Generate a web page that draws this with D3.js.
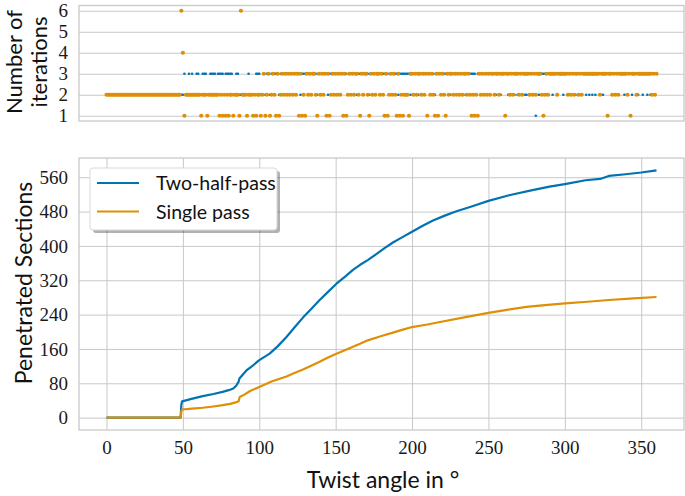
<!DOCTYPE html>
<html>
<head>
<meta charset="utf-8">
<script src="https://cdn.jsdelivr.net/npm/d3@7/dist/d3.min.js"></script>
<style>
  body { margin: 0; background: #fff; }
  .label { font-family: Lato, sans-serif; font-size: 23px; fill: #111; }
</style>
</head>
<body>
<div class="container"></div>
<script>
// colours of the two methods (seaborn colorblind palette)
const colors = {
  twoHalf: '#0173b2',
  single: '#de8f05',
  grid: '#c8c8c8'
};

// tick labels
const xTicks = [0, 50, 100, 150, 200, 250, 300, 350];
const sectionTicks = [0, 80, 160, 240, 320, 400, 480, 560];
const iterTicks = [1, 2, 3, 4, 5, 6];

// penetrated sections vs twist angle
const twoHalfAngles = [0, 48.5, 49, 49.5, 55, 63, 70, 76, 80, 83, 85, 86.5, 87, 91.6, 96, 100, 106.8, 112, 117.8, 123, 128.6, 134, 139.5, 145, 150.5, 156, 161.3, 166, 171, 176.6, 182, 187.5, 194, 200, 207, 213.7, 221, 228.6, 240, 250, 263.5, 278.8, 290, 300, 313.6, 323, 328.8, 339.8, 350, 360];
const twoHalfSections = [0, 0, 30, 38, 43, 50, 55, 60, 64, 68, 75, 84, 91, 110, 122, 134, 149, 166, 188, 210, 233, 253, 274, 293, 312, 328, 344, 356, 367, 381, 395, 408, 421, 433, 447, 459, 470, 480, 493, 505, 518, 530, 538, 544, 553, 556, 563, 567, 571, 576];

const singleAngles = [0, 48.5, 49, 49.5, 56, 63, 70, 76, 81, 85, 86.5, 87.2, 90, 94, 100, 108, 117.8, 123, 128.6, 134, 139.5, 145, 150.5, 156, 161.3, 166, 171, 180, 187.5, 194, 200, 210, 220, 235, 250, 262, 275, 287, 300, 315, 328.8, 345, 360];
const singleSections = [0, 0, 15, 19, 21, 23, 26, 29, 32, 36, 38, 48, 53, 62, 71.5, 84, 96, 104, 112, 121, 130, 140, 149, 157, 165, 172, 180, 190, 198, 205, 211, 217, 224, 234, 244, 251, 258, 262, 266, 270, 274, 278, 281];

// number of iterations per degree of twist (one digit per degree, 0..360)
const angleStep = 1;
const twoHalfIters = [
  '2222222222', '2222222222', '2222222222', '2222222222', '2222222222',
  '2322323223', '3223332233', '3323333233', '3332233222', '2223222233',
  '3223233233', '3332332333', '3323333233', '3333233323', '2333323333',
  '3323333323', '3333233333', '3323332333', '3333323333', '3233333332',
  '3333233333', '3332323333', '3333323333', '3333323333', '3323333233',
  '3333323323', '3332333232', '3333223323', '2132333323', '3323333332',
  '3332333233', '3333232323', '2333323333', '3333233332', '3333233323',
  '3233232333', '3'
];
const singleIters = [
  '2222222222', '2222222222', '2222222222', '2222222222', '2222222226',
  '4122222222', '2212221222', '2222121212', '1221222162', '2212221212',
  '2123123123', '2131232323', '2323231312', '1323233213', '2323131232',
  '3232313123', '2323321323', '3213232332', '3213123232', '1312122213',
  '3232332323', '1323213132', '3213233232', '3232332321', '2121323232',
  '3233233233', '3133232333', '2323333232', '3233321232', '3333323333',
  '3323232332', '3233333333', '3332333313', '3232323333', '3231333233',
  '3333333232', '3'
];

const legendNames = ['Two-half-pass', 'Single pass'];

// frame
const width = 685;
const height = 496;
const svg = d3.select('.container')
  .append('svg')
  .attr('width', width)
  .attr('height', height);

const left = 79;
const right = 684;
const topPanel = { y0: 5.5, y1: 121 };
const bottomPanel = { y0: 158, y1: 430 };

const xScale = d3.scaleLinear().domain([-18, 378]).range([left, right]);
const yIter = d3.scaleLinear().domain([0.75, 6.25]).range([topPanel.y1, topPanel.y0]);
const ySect = d3.scaleLinear().domain([-28.8, 604.8]).range([bottomPanel.y1, bottomPanel.y0]);

// helper to style an axis used as grid, with serif tick numbers
function styleGrid(g) {
  g.select('.domain').remove();
  g.selectAll('.tick line').attr('stroke', colors.grid).attr('stroke-width', 1);
  g.selectAll('.tick text')
    .attr('font-family', "'Liberation Serif', 'DejaVu Serif', serif")
    .attr('font-size', 19)
    .attr('fill', '#1a1a1a');
}

// ---- top panel: iterations ----
svg.append('g')
  .attr('transform', `translate(${left},0)`)
  .call(d3.axisLeft(yIter).tickValues(iterTicks).tickFormat(d3.format('d'))
    .tickSize(-(right - left)).tickPadding(11))
  .call(styleGrid);

function toPoints(chunks) {
  return chunks.join('').split('').map((c, i) => ({ angle: i * angleStep, it: +c }));
}

svg.append('g')
  .selectAll('circle')
  .data(toPoints(twoHalfIters))
  .enter()
  .append('circle')
  .attr('cx', d => xScale(d.angle))
  .attr('cy', d => yIter(d.it))
  .attr('r', 1.3)
  .attr('fill', colors.twoHalf);

svg.append('g')
  .selectAll('circle')
  .data(toPoints(singleIters))
  .enter()
  .append('circle')
  .attr('cx', d => xScale(d.angle))
  .attr('cy', d => yIter(d.it))
  .attr('r', 2.1)
  .attr('fill', colors.single);

svg.append('rect')
  .attr('x', left).attr('y', topPanel.y0)
  .attr('width', right - left).attr('height', topPanel.y1 - topPanel.y0)
  .attr('fill', 'none').attr('stroke', colors.grid).attr('stroke-width', 1.25);

// ---- bottom panel: penetrated sections ----
svg.append('g')
  .attr('transform', `translate(${left},0)`)
  .call(d3.axisLeft(ySect).tickValues(sectionTicks).tickSize(-(right - left)).tickPadding(11))
  .call(styleGrid);

svg.append('g')
  .attr('transform', `translate(0,${bottomPanel.y1})`)
  .call(d3.axisBottom(xScale).tickValues(xTicks).tickSize(-(bottomPanel.y1 - bottomPanel.y0)).tickPadding(11))
  .call(styleGrid);

const line = d3.line()
  .x(d => xScale(d[0]))
  .y(d => ySect(d[1]));

svg.append('path')
  .datum(d3.zip(twoHalfAngles, twoHalfSections))
  .attr('d', line)
  .attr('fill', 'none')
  .attr('stroke', colors.twoHalf)
  .attr('stroke-width', 2.2)
  .attr('stroke-linejoin', 'round');

svg.append('path')
  .datum(d3.zip(singleAngles, singleSections))
  .attr('d', line)
  .attr('fill', 'none')
  .attr('stroke', colors.single)
  .attr('stroke-width', 2.2)
  .attr('stroke-linejoin', 'round');

svg.append('rect')
  .attr('x', left).attr('y', bottomPanel.y0)
  .attr('width', right - left).attr('height', bottomPanel.y1 - bottomPanel.y0)
  .attr('fill', 'none').attr('stroke', colors.grid).attr('stroke-width', 1.25);

// legend with a drop shadow
const legend = svg.append('g').attr('transform', 'translate(90,168)');
legend.append('rect')
  .attr('x', 3).attr('y', 3).attr('width', 187).attr('height', 62).attr('rx', 3)
  .attr('fill', '#000').attr('opacity', 0.3);
legend.append('rect')
  .attr('width', 187).attr('height', 62).attr('rx', 3)
  .attr('fill', '#fff').attr('stroke', '#d8d8d8');

const legendRows = legend.selectAll('g.row')
  .data(legendNames)
  .enter()
  .append('g')
  .attr('class', 'row')
  .attr('transform', (d, i) => `translate(0,${15 + i * 28.5})`);

legendRows.append('line')
  .attr('x1', 7).attr('x2', 49)
  .attr('stroke', (d, i) => (i === 0 ? colors.twoHalf : colors.single))
  .attr('stroke-width', 2.2);

legendRows.append('text')
  .attr('class', 'label')
  .attr('x', 66)
  .attr('y', 7)
  .style('font-size', '19.5px')
  .text(d => d);

// axis titles
svg.append('text')
  .attr('class', 'label')
  .attr('transform', 'translate(22,62) rotate(-90)')
  .attr('text-anchor', 'middle')
  .style('font-size', '22px')
  .text('Number of');
svg.append('text')
  .attr('class', 'label')
  .attr('transform', 'translate(47,62) rotate(-90)')
  .attr('text-anchor', 'middle')
  .style('font-size', '22px')
  .text('iterations');

svg.append('text')
  .attr('class', 'label')
  .attr('transform', 'translate(32,283) rotate(-90)')
  .attr('text-anchor', 'middle')
  .text('Penetrated Sections');

svg.append('text')
  .attr('class', 'label')
  .attr('x', 383)
  .attr('y', 488)
  .attr('text-anchor', 'middle')
  .text('Twist angle in \u00b0');
</script>
</body>
</html>
